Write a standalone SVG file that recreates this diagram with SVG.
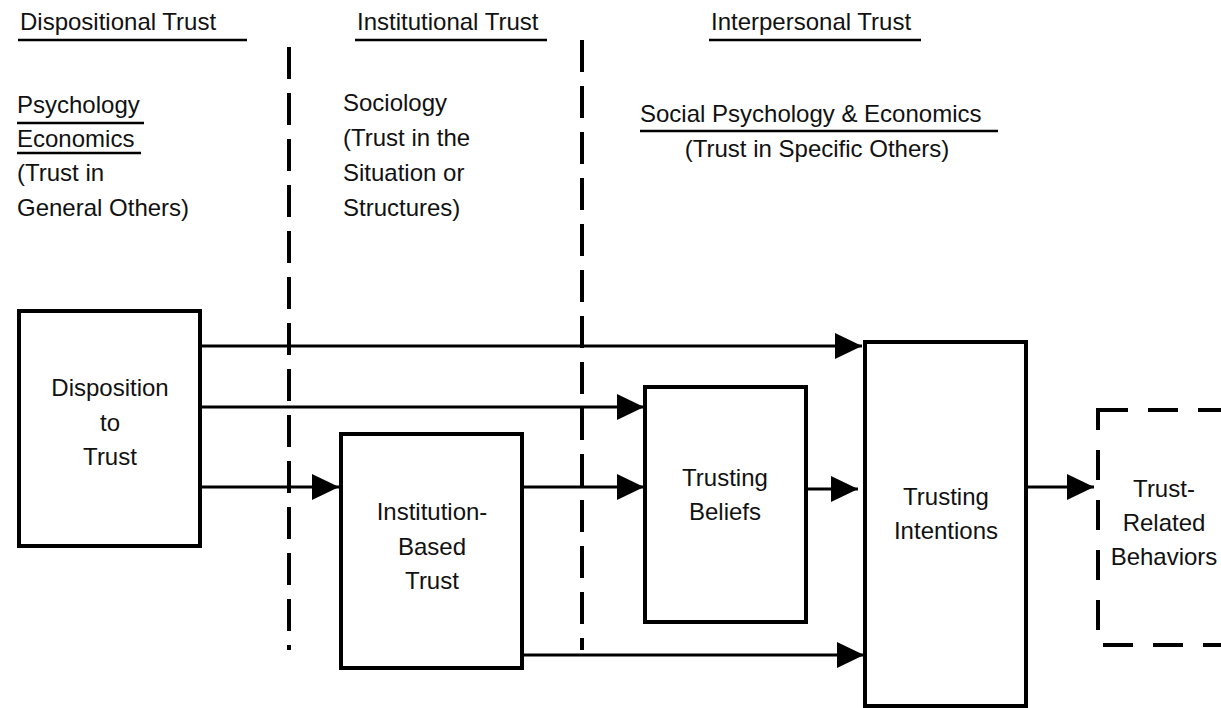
<svg xmlns="http://www.w3.org/2000/svg" width="1221" height="708" viewBox="0 0 1221 708">
<style>
text{font-family:"Liberation Sans",Arial,sans-serif;font-size:24px;fill:#111}
.c{text-anchor:middle}
.box{fill:#fff;stroke:#000;stroke-width:4}
.dbox{fill:none;stroke:#000;stroke-width:4;stroke-dasharray:30 20}
.ul{stroke:#000;stroke-width:2.5}
.sep{stroke:#000;stroke-width:4;stroke-dasharray:32 14}
.arr{stroke:#000;stroke-width:3;fill:none;marker-end:url(#ah)}
</style>
<defs>
<marker id="ah" markerUnits="userSpaceOnUse" markerWidth="28" markerHeight="28" refX="27" refY="13" orient="auto">
<path d="M0,0 L27,13 L0,26 z" fill="#000"/>
</marker>
</defs>
<rect width="1221" height="708" fill="#fff"/>
<g id="headers">
<text x="20" y="30">Dispositional Trust</text>
<line class="ul" x1="18" y1="40" x2="247" y2="40"/>
<text x="357" y="30">Institutional Trust</text>
<line class="ul" x1="355" y1="40" x2="547" y2="40"/>
<text x="711" y="30">Interpersonal Trust</text>
<line class="ul" x1="709" y1="40" x2="921" y2="40"/>
</g>
<g id="dispositional-notes">
<text x="17" y="113">Psychology</text>
<line class="ul" x1="17" y1="123" x2="144" y2="123"/>
<text x="17" y="147">Economics</text>
<line class="ul" x1="17" y1="153" x2="141" y2="153"/>
<text x="17" y="181">(Trust in</text>
<text x="17" y="216">General Others)</text>
</g>
<g id="institutional-notes">
<text x="343" y="111">Sociology</text>
<text x="343" y="146">(Trust in the</text>
<text x="343" y="181">Situation or</text>
<text x="343" y="216">Structures)</text>
</g>
<g id="interpersonal-notes">
<text x="640" y="122">Social Psychology &amp; Economics</text>
<line class="ul" x1="640" y1="131" x2="998" y2="131"/>
<text class="c" x="817" y="157">(Trust in Specific Others)</text>
</g>
<g id="separators">
<line class="sep" x1="289" y1="47" x2="289" y2="650"/>
<line class="sep" x1="582" y1="40" x2="582" y2="650"/>
</g>
<g id="connectors">
<line class="arr" x1="201" y1="346" x2="862" y2="346"/>
<line class="arr" x1="201" y1="407" x2="644" y2="407"/>
<line class="arr" x1="201" y1="487" x2="339" y2="487"/>
<line class="arr" x1="522" y1="487" x2="644" y2="487"/>
<line class="arr" x1="806" y1="489" x2="858" y2="489"/>
<line class="arr" x1="522" y1="655" x2="864" y2="655"/>
<line class="arr" x1="1026" y1="487" x2="1094" y2="487"/>
</g>
<g id="disposition">
<rect class="box" x="19" y="311" width="181" height="235"/>
<text class="c" x="110" y="396">Disposition</text>
<text class="c" x="110" y="431">to</text>
<text class="c" x="110" y="465">Trust</text>
</g>
<g id="institution">
<rect class="box" x="341" y="434" width="181" height="234"/>
<text class="c" x="432" y="520">Institution-</text>
<text class="c" x="432" y="555">Based</text>
<text class="c" x="432" y="589">Trust</text>
</g>
<g id="beliefs">
<rect class="box" x="645" y="387" width="161" height="235"/>
<text class="c" x="725" y="486">Trusting</text>
<text class="c" x="725" y="520">Beliefs</text>
</g>
<g id="intentions">
<rect class="box" x="865" y="342" width="161" height="364"/>
<text class="c" x="946" y="505">Trusting</text>
<text class="c" x="946" y="539">Intentions</text>
</g>
<g id="behaviors">
<rect class="dbox" x="1098" y="410" width="150" height="235"/>
<text class="c" x="1164" y="497">Trust-</text>
<text class="c" x="1164" y="531">Related</text>
<text class="c" x="1164" y="565">Behaviors</text>
</g>
</svg>
